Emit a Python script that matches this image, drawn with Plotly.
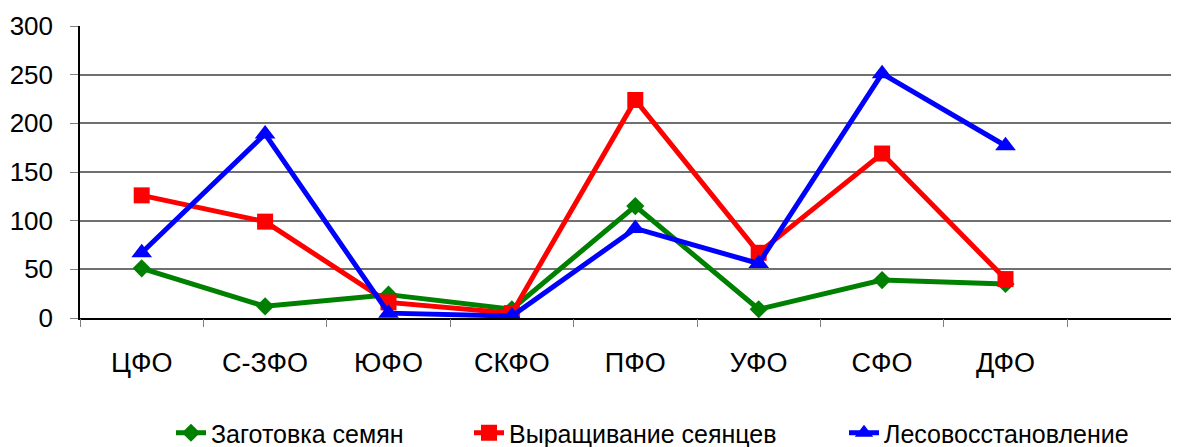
import plotly.graph_objects as go

categories = ["ЦФО", "С-ЗФО", "ЮФО", "СКФО", "ПФО", "УФО", "СФО", "ДФО"]
seeds = [51, 12, 24, 9, 115, 9, 39, 35]
seedlings = [126, 99, 16, 5, 224, 67, 169, 40]
reforestation = [67, 189, 5, 2, 92, 56, 251, 177]
y_ticks = [0, 50, 100, 150, 200, 250, 300]

x_idx = list(range(len(categories)))
boundaries = [i - 0.5 for i in range(len(categories) + 2)]

# page has an 8px body margin; size the figure so it fills the window
OFF = 8
W, H = 1179 - OFF, 447 - OFF

font = "Liberation Sans, Arial, sans-serif"
fig = go.Figure()
fig.add_trace(go.Scatter(x=x_idx, y=seeds, name="Заготовка семян", mode="lines+markers",
                         line=dict(color="#008000", width=5),
                         marker=dict(symbol="diamond", size=14, color="#008000"),
                         legend="legend"))
fig.add_trace(go.Scatter(x=x_idx, y=seedlings, name="Выращивание сеянцев", mode="lines+markers",
                         line=dict(color="#FF0000", width=5),
                         marker=dict(symbol="square", size=16, color="#FF0000"),
                         legend="legend2"))
fig.add_trace(go.Scatter(x=x_idx, y=reforestation, name="Лесовосстановление", mode="lines+markers",
                         line=dict(color="#0000FF", width=5),
                         marker=dict(symbol="triangle-up", size=18, color="#0000FF"),
                         legend="legend3"))
fig.add_trace(go.Scatter(x=[None], y=[None], xaxis="x2", showlegend=False, hoverinfo="skip"))


def leg(xpage):
    return dict(orientation="h", xref="container", yref="container",
                x=(xpage - OFF) / W, xanchor="left", y=(447 - 433) / H, yanchor="middle",
                font=dict(size=25), bgcolor="rgba(0,0,0,0)")


xr = [-0.5, -0.5 + 1099 / 123.4]
fig.update_layout(
    width=W, height=H,
    margin=dict(l=80 - OFF, r=0, t=26 - OFF, b=H - (318 - OFF), autoexpand=False),
    paper_bgcolor="white", plot_bgcolor="white",
    font=dict(family=font, size=26, color="black"),
    showlegend=True,
    legend=leg(171), legend2=leg(469), legend3=leg(844),
    xaxis=dict(range=xr, tickmode="array", tickvals=x_idx, ticktext=categories,
               ticks="", showgrid=False, showline=True, linecolor="black", linewidth=1.5,
               zeroline=False, ticklabelstandoff=20, tickfont=dict(size=27)),
    xaxis2=dict(range=xr, overlaying="x", side="bottom", tickmode="array",
                tickvals=boundaries, ticktext=[""] * len(boundaries),
                ticks="outside", ticklen=8, tickcolor="#808080", tickwidth=1,
                showgrid=False, showline=False, zeroline=False),
    yaxis=dict(range=[0, 300], tickmode="array", tickvals=y_ticks,
               ticks="outside", ticklen=8, tickcolor="#808080",
               showgrid=True, gridcolor="#707070", gridwidth=1.5,
               showline=True, linecolor="black", linewidth=1.5, zeroline=False,
               ticklabelstandoff=12, tickfont=dict(size=26)),
)
fig.write_html("out.html")
